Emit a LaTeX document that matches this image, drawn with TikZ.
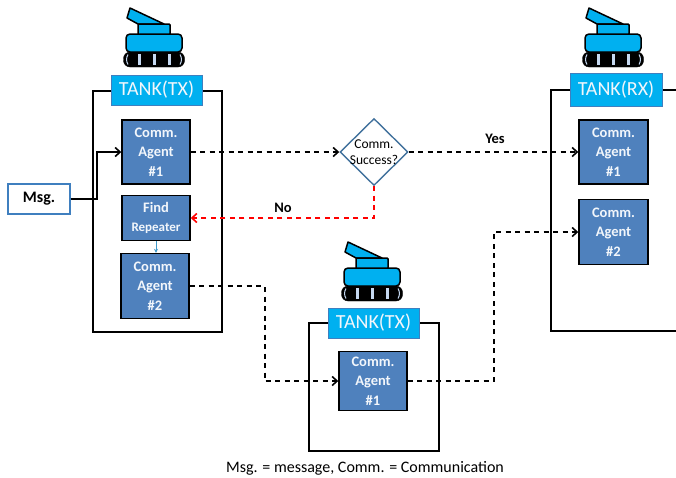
\documentclass[tikz,border=0pt]{standalone}
\usepackage{fontspec}
\setmainfont{Carlito}
\usetikzlibrary{arrows.meta, shapes.geometric}

\definecolor{agentblue}{HTML}{4F81BD}
\definecolor{tankblue}{HTML}{00B0F0}
\definecolor{labelline}{HTML}{3F7FBF}
\definecolor{decline}{HTML}{41719C}
\definecolor{trackbar}{HTML}{C6D9F1}
\definecolor{agenttext}{HTML}{F2F6FB}

\tikzset{
  framebox/.style={draw=black, line width=1.6pt, rectangle, anchor=north west, inner sep=0pt},
  tanklabel/.style={draw=labelline, line width=1pt, fill=tankblue, text=agenttext, inner sep=0pt,
    minimum height=30pt, font=\fontsize{20}{22}\selectfont},
  agent/.style={draw=black, line width=1.4pt, fill=agentblue, text=agenttext, align=center, inner sep=0pt,
    minimum width=68pt, minimum height=64pt, font=\fontsize{14.5}{19.5}\selectfont\bfseries},
  dashline/.style={line width=1.6pt, dash pattern=on 5pt off 4.5pt, -{Straight Barb[length=5pt,width=9pt]}},
  tankpart/.style={draw=black, line width=1.5pt, fill=tankblue}
}

% One tank icon, shifted from the one above the left box
\newcommand{\drawtank}[2]{
  \begin{scope}[shift={(#1,#2)}]
    \draw[tankpart, line join=round] (130,8) -- (127,18) -- (138,24) -- (164,24) -- cycle;
    \draw[tankpart, rounded corners=1pt] (138,24) rectangle (170,35);
    \draw[tankpart, rounded corners=4pt] (126,52) -- (126,34) -- (182,34) -- (182,52) -- cycle;
    \draw[black, fill=black, rounded corners=6.5pt] (123.5,52) rectangle (184.5,67);
    \foreach \barx in {139,154,169}
      \draw[trackbar, line width=3pt] (\barx,54) -- (\barx,65);
    \draw[trackbar, line width=1pt] (128,54.5) to[bend right=30] (128,64.5);
    \draw[trackbar, line width=1pt] (180,54.5) to[bend left=30] (180,64.5);
  \end{scope}
}

\begin{document}
\begin{tikzpicture}[x=1pt, y=-1pt]
  \useasboundingbox (0,0) rectangle (676,477);

  % Tank icons
  \drawtank{0}{0}
  \drawtank{218}{234}
  \drawtank{459}{0}

  % Boxes round the agents
  \node[framebox, minimum width=129pt, minimum height=241pt] (frameA) at (92,90) {};
  \node[framebox, minimum width=130pt, minimum height=128pt] (frameC) at (308,322) {};
  \draw[black, line width=1.6pt] (676,90) -- (551,90) -- (551,331) -- (676,331);

  % Box titles
  \node[tanklabel, minimum width=91pt] (titleA) at (156.5,90) {TANK(TX)};
  \node[tanklabel, minimum width=91pt] (titleC) at (373.5,323) {TANK(TX)};
  \node[tanklabel, minimum width=92pt, minimum height=33pt] (titleB) at (616,90) {TANK(RX)};

  % Left tank
  \node[agent] (agentA) at (156,152) {Comm.\\Agent\\\#1};
  \node[agent, minimum height=45pt] (find) at (156,218) {\fontsize{14.5}{19}\selectfont Find\\\fontsize{13}{17}\selectfont Repeater};
  \node[agent, minimum height=65pt] (agentB) at (155,286) {Comm.\\Agent\\\#2};

  % Middle tank
  \node[agent, minimum height=59pt] (agentC) at (373,381) {Comm.\\Agent\\\#1};

  % Right tank
  \node[agent, minimum width=69pt] (rxA) at (613.5,152) {Comm.\\Agent\\\#1};
  \node[agent, minimum width=69pt, minimum height=65pt] (rxB) at (613.5,232) {Comm.\\Agent\\\#2};

  % Message and decision
  \node[draw=labelline, line width=1.4pt, fill=white, minimum width=62pt, minimum height=30pt, inner sep=0pt,
    font=\fontsize{16}{18}\selectfont\bfseries] (msg) at (39,199) {Msg.};
  \node[diamond, draw=decline, line width=1.4pt, fill=white, minimum width=68pt, minimum height=67pt, aspect=1,
    inner sep=0pt] (dec) at (374,152) {};
  \node[align=center, inner sep=0pt, font=\fontsize{13.5}{16.5}\selectfont] (decText) at (dec) {Comm.\\Success?};

  % Connectors
  \draw[line width=1.6pt, -{Straight Barb[length=5pt,width=9pt]}] (msg.east) -- ++(26,0) |- (agentA.west);
  \draw[dashline] (agentA.east) -- (dec.west);
  \draw[dashline] (dec.east) -- (rxA.west);
  \draw[dashline, red] (dec.south) |- (find.east);
  \draw[dashline] (agentB.east) -- ++(75,0) |- (agentC.west);
  \draw[dashline] (agentC.east) -- ++(86,0) |- (rxB.west);
  \draw[-{Stealth[length=4pt,width=4pt]}, agentblue!80!cyan, line width=0.8pt] (find.south) -- (find.south |- agentB.north);

  % Labels
  \node[font=\fontsize{14.5}{16}\selectfont\bfseries] (yes) at (495,139) {Yes};
  \node[font=\fontsize{14.5}{16}\selectfont\bfseries] (no) at (283,208) {No};
  \node[font=\fontsize{16}{17}\selectfont] (note) at (365,468) {Msg. = message, Comm. = Communication};
\end{tikzpicture}
\end{document}
